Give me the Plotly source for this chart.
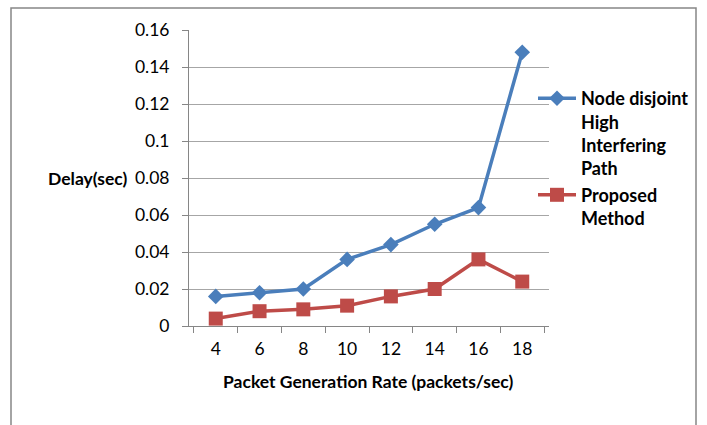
import plotly.graph_objects as go

# Packet generation rate (packets/sec)
rates = ["4", "6", "8", "10", "12", "14", "16", "18"]
# End-to-end delay (sec)
delay_node_disjoint = [0.016, 0.018, 0.020, 0.036, 0.044, 0.055, 0.064, 0.148]
delay_proposed = [0.004, 0.008, 0.009, 0.011, 0.016, 0.020, 0.036, 0.024]
y_ticks = [0, 0.02, 0.04, 0.06, 0.08, 0.1, 0.12, 0.14, 0.16]

W, H = 707, 425
ML, MR, MT, MB = 189, 158, 30, 99
PW, PH = W - ML - MR, H - MT - MB

def px_x(x):
    return (x - ML) / PW

def px_y(y):
    return (H - MB - y) / PH

BLUE = "#4A7EBB"
RED = "#BE4B48"
AXIS = "#868686"
FONT = "Lato"

fig = go.Figure()
fig.add_trace(go.Scatter(
    x=rates, y=delay_node_disjoint, mode="lines+markers",
    name="Node disjoint<br>High<br>Interfering<br>Path",
    line=dict(color=BLUE, width=3.5),
    marker=dict(symbol="diamond", size=12, color=BLUE),
))
fig.add_trace(go.Scatter(
    x=rates, y=delay_proposed, mode="lines+markers",
    name="Proposed<br>Method",
    line=dict(color=RED, width=3.5),
    marker=dict(symbol="square", size=14, color=RED),
))

fig.update_layout(
    width=W, height=H,
    margin=dict(l=ML, r=MR, t=MT, b=MB),
    paper_bgcolor="white", plot_bgcolor="white",
    font=dict(family=FONT, size=17.5, color="#000000"),
    legend=dict(
        x=px_x(533), y=px_y(80), xanchor="left", yanchor="top",
        font=dict(family=FONT, size=18, color="#000000", weight="bold"),
        valign="top", itemwidth=38, bgcolor="rgba(0,0,0,0)",
    ),
    xaxis=dict(
        type="category", tickson="boundaries", ticks="outside", ticklen=6,
        tickcolor=AXIS, showline=True, linecolor=AXIS, linewidth=1,
        showgrid=False, tickfont=dict(size=17.5), ticklabelstandoff=7,
    ),
    yaxis=dict(
        range=[0, 0.16], tickvals=y_ticks, ticks="outside", ticklen=6,
        tickcolor=AXIS, showline=True, linecolor=AXIS, linewidth=1,
        showgrid=True, gridcolor="#A6A6A6", gridwidth=1, zeroline=False,
        tickfont=dict(size=17.5), ticklabelstandoff=9,
    ),
    shapes=[dict(
        type="rect", xref="paper", yref="paper",
        x0=px_x(11), x1=px_x(696), y0=px_y(440), y1=px_y(8),
        line=dict(color=AXIS, width=1.5), fillcolor="rgba(0,0,0,0)", layer="below",
    )],
    annotations=[
        dict(text="<b>Delay(sec)</b>", xref="paper", yref="y",
             x=px_x(129), y=0.08, xanchor="right", yanchor="middle",
             showarrow=False, font=dict(size=17.5)),
        dict(text="<b>Packet Generation Rate (packets/sec)</b>", xref="paper", yref="paper",
             x=px_x(368), y=px_y(381), xanchor="center", yanchor="middle",
             showarrow=False, font=dict(size=17.5)),
    ],
)

fig.write_html("out.html")
